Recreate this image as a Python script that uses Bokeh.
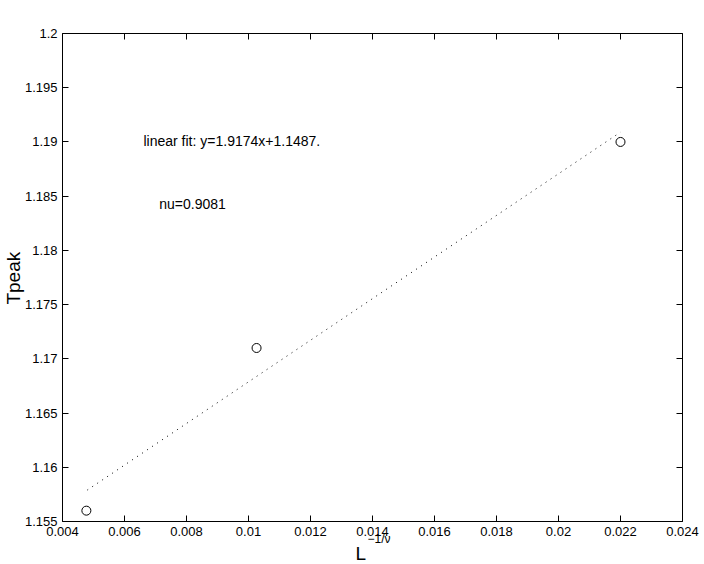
import math
from bokeh.plotting import figure
from bokeh.models import LinearAxis, FixedTicker, Label, Range1d, CustomJSTickFormatter
from bokeh.embed import file_html
from bokeh.resources import INLINE

# ---- data ----
x_points = [0.00477, 0.01026, 0.0220]
y_points = [1.1560, 1.1710, 1.1900]
fit_x = [0.0048, 0.0220]
fit_y = [1.1579, 1.1909]

x_ticks = [0.004, 0.006, 0.008, 0.010, 0.012, 0.014, 0.016, 0.018, 0.020, 0.022, 0.024]
x_tick_labels = ["0.004", "0.006", "0.008", "0.01", "0.012", "0.014", "0.016", "0.018", "0.02", "0.022", "0.024"]
y_ticks = [1.155, 1.160, 1.165, 1.170, 1.175, 1.180, 1.185, 1.190, 1.195, 1.200]
y_tick_labels = ["1.155", "1.16", "1.165", "1.17", "1.175", "1.18", "1.185", "1.19", "1.195", "1.2"]

# axes box limits
x_min, x_max = 0.004, 0.024
y_min, y_max = 1.155, 1.2
# the view extends past the axes box so that tick labels and titles sit inside it
x_view = (0.002, 0.024581)
y_view = (1.151035, 1.203043)

fit_text = "linear fit: y=1.9174x+1.1487."
nu_text = "nu=0.9081"
y_title = "Tpeak"
x_title_base = "L"
x_title_sup = "\u22121/\u03bd"

FONT = "Liberation Sans"

p = figure(width=700, height=564, output_backend="svg", toolbar_location=None,
           x_range=Range1d(*x_view), y_range=Range1d(*y_view),
           x_axis_location=None, y_axis_location=None,
           min_border_left=0, min_border_right=0, min_border_top=0, min_border_bottom=0)
p.background_fill_color = "white"
p.border_fill_color = "white"
p.outline_line_color = None
p.xgrid.visible = False
p.ygrid.visible = False

def style_axis(ax, ticks, labels=None):
    ax.ticker = FixedTicker(ticks=ticks)
    ax.major_tick_in = 6
    ax.major_tick_out = 0
    ax.minor_tick_line_color = None
    ax.axis_line_color = "black"
    ax.major_tick_line_color = "black"
    ax.major_label_text_font = FONT
    ax.major_label_text_font_size = "13px"
    ax.major_label_text_color = "black"
    ax.major_label_standoff = 5
    if labels is not None:
        ax.major_label_overrides = {t: l for t, l in zip(ticks, labels)}
    else:
        ax.formatter = CustomJSTickFormatter(code="return ''")

bottom = LinearAxis(fixed_location=y_min, bounds=(x_min, x_max))
style_axis(bottom, x_ticks, x_tick_labels)
p.add_layout(bottom, "below")

left = LinearAxis(fixed_location=x_min, bounds=(y_min, y_max))
style_axis(left, y_ticks, y_tick_labels)
p.add_layout(left, "left")

top = LinearAxis(fixed_location=y_max, bounds=(x_min, x_max))
style_axis(top, x_ticks)
p.add_layout(top, "above")

right = LinearAxis(fixed_location=x_max, bounds=(y_min, y_max))
style_axis(right, y_ticks)
p.add_layout(right, "right")

p.line(fit_x, fit_y, line_color="black", line_width=1, line_dash="1 5")
p.scatter(x_points, y_points, marker="circle", size=9, fill_color=None,
          line_color="black", line_width=1)

p.add_layout(Label(x=0.006677, y=1.19013, x_offset=-2, text=fit_text, text_font=FONT,
                   text_font_size="14px", text_color="black", text_baseline="alphabetic"))
p.add_layout(Label(x=0.007184, y=1.18432, x_offset=-2, text=nu_text, text_font=FONT,
                   text_font_size="14px", text_color="black", text_baseline="alphabetic"))

p.add_layout(Label(x=0.002419, y=1.1750, text=y_title, text_font=FONT,
                   text_font_size="19px", text_color="black", angle=math.pi / 2,
                   text_align="left", text_baseline="middle"))
p.add_layout(Label(x=0.013452, y=1.152049, text=x_title_base, text_font=FONT,
                   text_font_size="19px", text_color="black", text_baseline="middle"))
p.add_layout(Label(x=0.013452, y=1.152049, x_offset=12, y_offset=15, text=x_title_sup,
                   text_font=FONT, text_font_size="12px", text_color="black",
                   text_baseline="middle"))

open("out.html", "w").write(file_html(p, INLINE))
